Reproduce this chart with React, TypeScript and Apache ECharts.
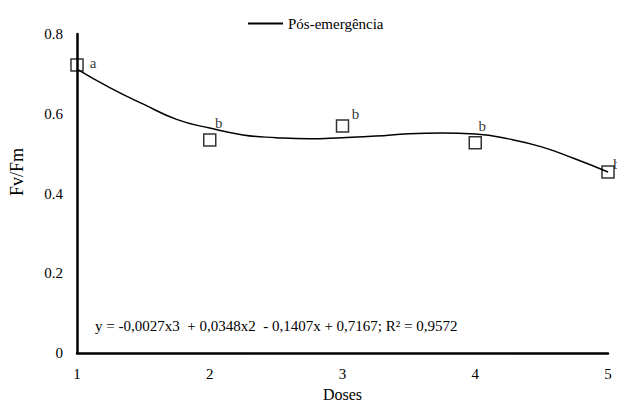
import React, { useEffect, useRef } from "react";
import * as echarts from "echarts";

const doses = [1, 2, 3, 4, 5];
const fvfm = [0.722, 0.534, 0.569, 0.527, 0.454];
const letters = ["a", "b", "b", "b", "b"];

const curveX = [1, 1.25, 1.5, 1.75, 2, 2.25, 2.5, 2.75, 3, 3.25, 3.5, 3.75, 4, 4.25, 4.5, 4.75, 5];
const curveY = [0.712, 0.665, 0.624, 0.586, 0.564, 0.547, 0.54, 0.537, 0.54, 0.544, 0.55, 0.552, 0.549, 0.537, 0.517, 0.487, 0.454];

const yTicks = [0, 0.2, 0.4, 0.6, 0.8];
const equation = "y = -0,0027x3  + 0,0348x2  - 0,1407x + 0,7167; R² = 0,9572";
const yTitle = "Fv/Fm";
const xTitle = "Doses";
const seriesName = "Pós-emergência";

const labelOffsets: [number, number][] = [[16, -2], [9, -17], [13, -12], [7, -17], [9, -8]];

const FONT = "Liberation Serif";

export default function App() {
  const ref = useRef<HTMLDivElement>(null);
  useEffect(() => {
    if (!ref.current) return;
    const chart = echarts.init(ref.current, null, { renderer: "svg" });
    chart.setOption({
      animation: false,
      grid: { left: 77, right: 9, top: 34, bottom: 51, containLabel: false, outerBoundsMode: "none" },
      legend: {
        data: [{ name: seriesName, icon: "rect" }],
        top: 11,
        left: 243,
        itemWidth: 35,
        itemHeight: 2,
        itemGap: 4,
        itemStyle: { color: "#000" },
        textStyle: { fontFamily: FONT, fontSize: 15, color: "#000" },
      },
      xAxis: {
        type: "value",
        min: 1,
        max: 5,
        interval: 1,
        name: xTitle,
        nameLocation: "middle",
        nameGap: 33,
        nameTextStyle: { fontFamily: FONT, fontSize: 16, color: "#000" },
        axisLine: { lineStyle: { color: "#000", width: 2.5 } },
        axisTick: { show: false },
        splitLine: { show: false },
        axisLabel: { fontFamily: FONT, fontSize: 15, color: "#000", margin: 13 },
      },
      yAxis: {
        type: "value",
        min: yTicks[0],
        max: yTicks[yTicks.length - 1],
        interval: 0.2,
        axisLine: { show: true, lineStyle: { color: "#000", width: 2.5 } },
        axisTick: { show: false },
        splitLine: { show: false },
        axisLabel: { fontFamily: FONT, fontSize: 15, color: "#000", margin: 14 },
      },
      series: [
        {
          name: seriesName,
          type: "line",
          smooth: true,
          showSymbol: false,
          symbol: "none",
          lineStyle: { color: "#000", width: 1.5 },
          itemStyle: { color: "#000" },
          data: curveX.map((x, i) => [x, curveY[i]]),
          z: 2,
        },
        {
          name: "obs",
          type: "scatter",
          symbol: "rect",
          symbolSize: 12,
          itemStyle: { color: "rgba(0,0,0,0)", borderColor: "#000", borderWidth: 1.5 },
          label: { show: true, position: "inside", fontFamily: FONT, fontSize: 15, color: "#000" },
          data: doses.map((d, i) => ({
            value: [d, fvfm[i]],
            label: {
              formatter: letters[i],
              offset: labelOffsets[i],
            },
          })),
          z: 3,
        },
      ],
      graphic: [
        {
          type: "text",
          left: 95,
          top: 318,
          style: { text: equation, fontFamily: FONT, fontSize: 15, fill: "#000" },
        },
        {
          type: "text",
          x: 17,
          y: 172,
          rotation: Math.PI / 2,
          style: {
            text: yTitle,
            fontFamily: FONT,
            fontSize: 18,
            fill: "#000",
            align: "center",
            verticalAlign: "middle",
          },
        },
      ],
    });
    return () => chart.dispose();
  }, []);
  return <div ref={ref} style={{ position: "absolute", left: 0, top: 0, width: 617, height: 404 }} />;
}
